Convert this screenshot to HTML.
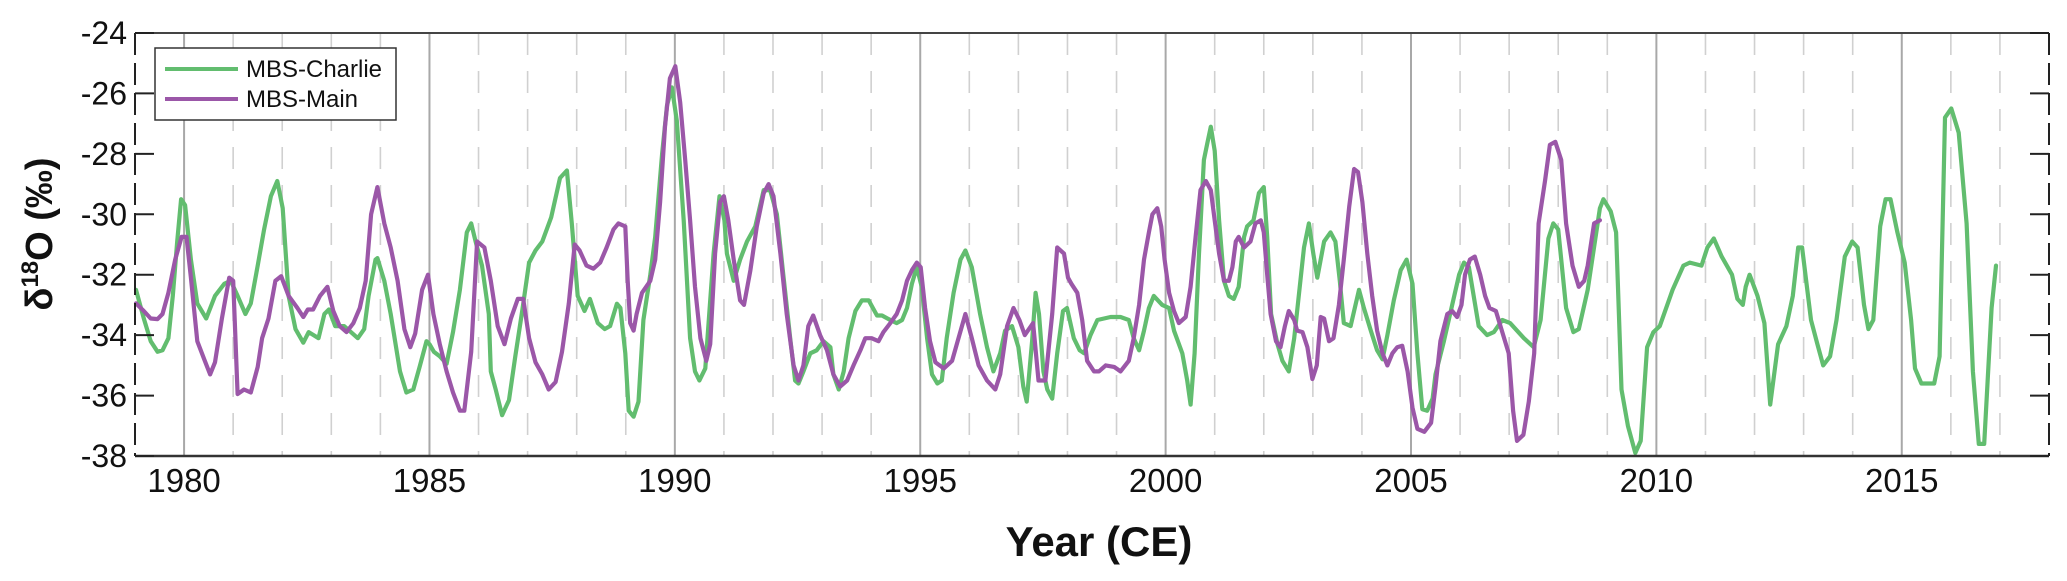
<!DOCTYPE html>
<html><head><meta charset="utf-8"><style>
html,body{margin:0;padding:0;background:#fff;}
svg{display:block;font-family:"Liberation Sans",Arial,sans-serif;}
</style></head><body>
<svg id="chart" width="2067" height="581" viewBox="0 0 2067 581" xmlns="http://www.w3.org/2000/svg">
<g id="grid"></g>
<g id="series"></g>
<g id="axes"></g>
<text transform="translate(52,234) rotate(-90)" text-anchor="middle" font-size="38" font-weight="bold" fill="#111">δ<tspan font-size="24" dy="-14">18</tspan><tspan dy="14">O (‰)</tspan></text>
<text x="1099" y="556" text-anchor="middle" font-size="42" font-weight="bold" fill="#111">Year (CE)</text>
<g>
<rect x="155" y="48" width="241" height="72" fill="#fff" stroke="#333" stroke-width="1.5"/>
<line x1="165" y1="69" x2="238" y2="69" stroke="#62bd6f" stroke-width="4"/>
<text x="246" y="77" font-size="24" fill="#111">MBS-Charlie</text>
<line x1="165" y1="99" x2="238" y2="99" stroke="#9b57a8" stroke-width="4"/>
<text x="246" y="107" font-size="24" fill="#111">MBS-Main</text>
</g>
</svg>
<script>
const charlieYears=[1979.02,1979.18,1979.32,1979.46,1979.56,1979.68,1979.77,1979.86,1979.94,1980.02,1980.14,1980.27,1980.45,1980.63,1980.82,1980.95,1981.09,1981.25,1981.36,1981.5,1981.63,1981.77,1981.9,1982.01,1982.13,1982.27,1982.43,1982.54,1982.74,1982.86,1982.95,1983.08,1983.26,1983.4,1983.54,1983.67,1983.76,1983.9,1983.94,1984.08,1984.21,1984.4,1984.53,1984.67,1984.8,1984.94,1985.0,1985.09,1985.21,1985.35,1985.48,1985.62,1985.76,1985.85,1985.94,1986.07,1986.21,1986.25,1986.35,1986.48,1986.62,1986.75,1986.89,1987.03,1987.16,1987.3,1987.48,1987.66,1987.8,1987.9,1988.02,1988.16,1988.27,1988.43,1988.57,1988.68,1988.82,1988.89,1988.99,1989.06,1989.16,1989.26,1989.36,1989.5,1989.6,1989.74,1989.84,1989.94,1990.04,1990.18,1990.31,1990.41,1990.5,1990.62,1990.79,1990.91,1991.01,1991.06,1991.2,1991.33,1991.47,1991.64,1991.81,1991.94,1992.08,1992.21,1992.35,1992.45,1992.52,1992.62,1992.76,1992.89,1993.03,1993.17,1993.23,1993.34,1993.44,1993.54,1993.68,1993.81,1993.95,1994.12,1994.22,1994.39,1994.52,1994.63,1994.73,1994.83,1994.93,1995.03,1995.14,1995.24,1995.35,1995.44,1995.54,1995.68,1995.82,1995.92,1996.05,1996.22,1996.36,1996.49,1996.63,1996.73,1996.87,1997.0,1997.1,1997.17,1997.28,1997.35,1997.42,1997.51,1997.59,1997.69,1997.79,1997.91,1997.99,1998.13,1998.25,1998.34,1998.47,1998.61,1998.88,1999.08,1999.25,1999.35,1999.46,1999.56,1999.66,1999.76,1999.93,2000.07,2000.17,2000.34,2000.44,2000.51,2000.59,2000.68,2000.78,2000.85,2000.92,2001.0,2001.09,2001.19,2001.29,2001.39,2001.49,2001.6,2001.66,2001.79,2001.9,2002.0,2002.07,2002.15,2002.28,2002.38,2002.51,2002.62,2002.72,2002.82,2002.92,2003.01,2003.09,2003.23,2003.36,2003.46,2003.55,2003.63,2003.77,2003.94,2004.04,2004.18,2004.31,2004.42,2004.52,2004.65,2004.79,2004.91,2005.03,2005.13,2005.23,2005.33,2005.44,2005.5,2005.67,2005.84,2005.98,2006.08,2006.18,2006.38,2006.55,2006.69,2006.86,2007.02,2007.3,2007.5,2007.64,2007.8,2007.9,2008.0,2008.16,2008.31,2008.42,2008.6,2008.85,2008.92,2009.07,2009.18,2009.29,2009.42,2009.57,2009.68,2009.81,2009.94,2010.07,2010.33,2010.55,2010.68,2010.92,2011.04,2011.17,2011.33,2011.54,2011.65,2011.76,2011.82,2011.9,2012.06,2012.2,2012.32,2012.48,2012.65,2012.78,2012.89,2012.97,2013.15,2013.28,2013.4,2013.54,2013.67,2013.84,2013.99,2014.1,2014.23,2014.32,2014.42,2014.56,2014.67,2014.77,2014.91,2015.06,2015.19,2015.27,2015.4,2015.66,2015.77,2015.88,2016.01,2016.16,2016.32,2016.45,2016.57,2016.68,2016.83,2016.92];
const charlieValues=[-32.5,-33.45,-34.2,-34.55,-34.5,-34.1,-32.7,-30.9,-29.5,-29.7,-31.5,-32.95,-33.45,-32.7,-32.3,-32.2,-32.7,-33.3,-32.95,-31.7,-30.5,-29.4,-28.9,-29.8,-32.7,-33.8,-34.25,-33.9,-34.1,-33.3,-33.15,-33.7,-33.7,-33.9,-34.1,-33.8,-32.7,-31.5,-31.45,-32.2,-33.3,-35.2,-35.9,-35.8,-35.05,-34.2,-34.3,-34.55,-34.7,-34.95,-33.9,-32.5,-30.6,-30.3,-30.9,-31.7,-33.3,-35.2,-35.8,-36.65,-36.15,-34.7,-33.2,-31.6,-31.2,-30.9,-30.1,-28.8,-28.55,-30.3,-32.7,-33.2,-32.8,-33.6,-33.8,-33.7,-32.96,-33.1,-34.6,-36.5,-36.7,-36.2,-33.5,-32.0,-30.75,-28.0,-26.4,-25.8,-26.9,-30.2,-34.1,-35.2,-35.5,-35.1,-31.3,-29.4,-30.2,-31.3,-32.2,-31.5,-30.9,-30.4,-29.2,-29.2,-30.0,-32.0,-34.1,-35.5,-35.6,-35.2,-34.6,-34.5,-34.2,-34.4,-35.3,-35.8,-35.2,-34.1,-33.2,-32.85,-32.85,-33.35,-33.35,-33.5,-33.6,-33.5,-33.1,-32.3,-31.75,-32.4,-34.1,-35.3,-35.6,-35.5,-34.1,-32.6,-31.5,-31.2,-31.75,-33.3,-34.4,-35.2,-34.6,-33.85,-33.7,-34.4,-35.7,-36.2,-34.2,-32.6,-33.3,-35.2,-35.8,-36.1,-34.6,-33.2,-33.1,-34.1,-34.5,-34.6,-34.0,-33.5,-33.4,-33.4,-33.5,-34.1,-34.5,-33.85,-33.1,-32.7,-33.0,-33.1,-33.85,-34.6,-35.5,-36.3,-34.6,-31.3,-28.2,-27.65,-27.1,-27.9,-30.2,-32.2,-32.7,-32.8,-32.4,-30.75,-30.4,-30.2,-29.3,-29.1,-30.75,-33.3,-34.3,-34.85,-35.2,-34.1,-32.6,-31.1,-30.3,-31.3,-32.1,-30.9,-30.6,-30.9,-32.2,-33.6,-33.7,-32.5,-33.1,-33.85,-34.5,-34.8,-34.0,-32.85,-31.85,-31.5,-32.3,-34.6,-36.45,-36.5,-36.1,-35.3,-34.2,-33.0,-32.0,-31.6,-31.75,-33.7,-34.0,-33.9,-33.5,-33.6,-34.1,-34.4,-33.5,-30.8,-30.3,-30.5,-33.1,-33.9,-33.8,-32.5,-29.8,-29.5,-29.9,-30.6,-35.8,-37.0,-37.9,-37.5,-34.4,-33.9,-33.7,-32.5,-31.7,-31.6,-31.7,-31.1,-30.8,-31.4,-32.0,-32.8,-33.0,-32.4,-32.0,-32.7,-33.6,-36.3,-34.3,-33.7,-32.7,-31.1,-31.1,-33.5,-34.3,-35.0,-34.7,-33.5,-31.4,-30.9,-31.1,-33.0,-33.8,-33.5,-30.4,-29.5,-29.5,-30.6,-31.6,-33.5,-35.1,-35.6,-35.6,-34.7,-26.8,-26.5,-27.3,-30.3,-35.2,-37.6,-37.6,-33.1,-31.7];
const mainYears=[1979.02,1979.18,1979.32,1979.46,1979.56,1979.68,1979.82,1979.95,1980.05,1980.14,1980.27,1980.41,1980.53,1980.63,1980.77,1980.92,1981.0,1981.09,1981.22,1981.36,1981.5,1981.59,1981.72,1981.86,1981.98,1982.13,1982.31,1982.43,1982.52,1982.63,1982.77,1982.92,1983.04,1983.17,1983.31,1983.45,1983.58,1983.7,1983.81,1983.94,1984.08,1984.21,1984.35,1984.49,1984.61,1984.71,1984.85,1984.97,1985.08,1985.21,1985.35,1985.48,1985.62,1985.71,1985.85,1985.97,1986.12,1986.25,1986.39,1986.53,1986.66,1986.8,1986.91,1987.03,1987.16,1987.3,1987.43,1987.57,1987.7,1987.84,1987.96,1988.06,1988.2,1988.34,1988.48,1988.61,1988.75,1988.85,1988.99,1989.04,1989.09,1989.16,1989.22,1989.33,1989.5,1989.6,1989.7,1989.8,1989.9,1990.01,1990.11,1990.21,1990.31,1990.41,1990.52,1990.64,1990.72,1990.82,1990.92,1991.0,1991.09,1991.2,1991.33,1991.41,1991.54,1991.67,1991.81,1991.91,1992.01,1992.15,1992.28,1992.42,1992.52,1992.62,1992.72,1992.82,1992.96,1993.1,1993.23,1993.37,1993.51,1993.64,1993.78,1993.88,1994.01,1994.15,1994.25,1994.39,1994.52,1994.63,1994.73,1994.83,1994.93,1995.01,1995.1,1995.2,1995.31,1995.48,1995.65,1995.78,1995.92,1996.05,1996.19,1996.36,1996.53,1996.63,1996.77,1996.9,1997.02,1997.13,1997.3,1997.41,1997.55,1997.69,1997.79,1997.93,1998.01,1998.08,1998.2,1998.3,1998.4,1998.54,1998.64,1998.78,1998.95,1999.08,1999.25,1999.35,1999.46,1999.56,1999.66,1999.73,1999.83,1999.91,1999.98,2000.07,2000.17,2000.27,2000.41,2000.51,2000.61,2000.71,2000.82,2000.92,2001.0,2001.09,2001.19,2001.29,2001.36,2001.43,2001.49,2001.6,2001.73,2001.83,2001.94,2002.0,2002.07,2002.14,2002.25,2002.34,2002.43,2002.51,2002.62,2002.68,2002.79,2002.89,2002.99,2003.08,2003.16,2003.23,2003.33,2003.42,2003.53,2003.63,2003.74,2003.84,2003.92,2004.01,2004.11,2004.21,2004.31,2004.42,2004.52,2004.62,2004.72,2004.82,2004.93,2005.03,2005.13,2005.27,2005.41,2005.5,2005.6,2005.74,2005.84,2005.94,2006.03,2006.1,2006.2,2006.3,2006.41,2006.51,2006.6,2006.73,2006.99,2007.08,2007.16,2007.29,2007.4,2007.51,2007.6,2007.73,2007.83,2007.94,2008.06,2008.16,2008.29,2008.42,2008.53,2008.6,2008.73,2008.85,2008.92];
const mainValues=[-32.95,-33.2,-33.45,-33.47,-33.3,-32.6,-31.5,-30.75,-30.75,-32.1,-34.2,-34.8,-35.3,-34.9,-33.45,-32.1,-32.2,-35.95,-35.8,-35.9,-35.05,-34.1,-33.45,-32.2,-32.05,-32.7,-33.1,-33.4,-33.15,-33.15,-32.7,-32.4,-33.2,-33.7,-33.9,-33.6,-33.1,-32.2,-30.0,-29.1,-30.3,-31.1,-32.2,-33.8,-34.4,-33.95,-32.5,-32.0,-33.3,-34.3,-35.2,-35.9,-36.5,-36.5,-34.55,-30.9,-31.1,-32.2,-33.7,-34.3,-33.45,-32.8,-32.8,-34.1,-34.9,-35.3,-35.8,-35.55,-34.55,-32.95,-31.0,-31.2,-31.7,-31.8,-31.6,-31.1,-30.5,-30.3,-30.4,-32.2,-33.6,-33.85,-33.3,-32.6,-32.2,-31.5,-29.6,-27.1,-25.5,-25.1,-26.3,-28.2,-30.2,-32.4,-34.1,-34.85,-34.3,-31.3,-29.6,-29.4,-30.2,-31.5,-32.85,-33.0,-31.85,-30.4,-29.3,-29.0,-29.4,-31.3,-33.3,-35.0,-35.5,-35.0,-33.7,-33.35,-34.0,-34.5,-35.3,-35.7,-35.5,-35.0,-34.5,-34.1,-34.1,-34.2,-33.9,-33.6,-33.3,-32.85,-32.2,-31.85,-31.6,-31.75,-33.1,-34.2,-34.9,-35.1,-34.85,-34.1,-33.3,-34.1,-35.0,-35.5,-35.8,-35.3,-33.7,-33.1,-33.5,-34.0,-33.6,-35.5,-35.5,-33.3,-31.1,-31.3,-32.1,-32.3,-32.6,-33.5,-34.85,-35.2,-35.2,-35.0,-35.05,-35.2,-34.85,-34.1,-33.0,-31.5,-30.6,-30.0,-29.8,-30.4,-31.5,-32.6,-33.2,-33.6,-33.4,-32.4,-30.75,-29.2,-28.9,-29.2,-30.2,-31.3,-32.2,-32.2,-31.75,-30.9,-30.75,-31.1,-30.9,-30.3,-30.2,-30.6,-32.0,-33.3,-34.2,-34.4,-33.7,-33.2,-33.5,-33.85,-33.9,-34.4,-35.45,-35.0,-33.4,-33.45,-34.2,-34.1,-33.0,-31.5,-29.75,-28.5,-28.6,-29.6,-31.3,-32.7,-33.85,-34.6,-35.0,-34.6,-34.4,-34.35,-35.2,-36.4,-37.1,-37.2,-36.9,-35.7,-34.2,-33.3,-33.2,-33.4,-33.0,-32.0,-31.5,-31.4,-32.0,-32.7,-33.1,-33.2,-34.6,-36.5,-37.5,-37.3,-36.2,-34.6,-30.3,-28.9,-27.7,-27.6,-28.2,-30.3,-31.7,-32.4,-32.2,-31.7,-30.3,-30.2];
const yTicks=[-24,-26,-28,-30,-32,-34,-36,-38];
const xTickLabels=[1980,1985,1990,1995,2000,2005,2010,2015];

const NS='http://www.w3.org/2000/svg';
const L=135,R=2049,T=33,B=456,X0=1979,X1=2018,Y0=-38,Y1=-24;
function xs(v){return L+(v-X0)/(X1-X0)*(R-L);}
function ys(v){return B-(v-Y0)/(Y1-Y0)*(B-T);}
function mk(tag,attrs,parent){const e=document.createElementNS(NS,tag);for(const k in attrs)e.setAttribute(k,attrs[k]);parent.appendChild(e);return e;}
const grid=document.getElementById('grid'),axes=document.getElementById('axes'),series=document.getElementById('series');
for(let yr=1980;yr<=2017;yr++){
  const major=yr%5===0;
  const g=mk('line',{x1:xs(yr),x2:xs(yr),y1:T,y2:B,stroke:major?'#a8a8a8':'#d0d0d0','stroke-width':major?2:1.6,'stroke-dasharray':major?'none':'22,16'},grid);
  
  
}
function drawSeries(xsArr,vals,color,name){
  let d='';
  for(let i=0;i<xsArr.length;i++)d+=(i?'L':'M')+xs(xsArr[i]).toFixed(1)+','+ys(vals[i]).toFixed(1);
  const p=mk('path',{d:d,fill:'none',stroke:color,'stroke-width':4.2,'stroke-linejoin':'round','stroke-linecap':'round'},series);
  
  
}
drawSeries(charlieYears,charlieValues,'#62bd6f','series-mbs-charlie');
drawSeries(mainYears,mainValues,'#9b57a8','series-mbs-main');
const ft=mk('line',{x1:L,x2:R,y1:T,y2:T,stroke:'#444','stroke-width':2},axes);


const fb=mk('line',{x1:L,x2:R,y1:B,y2:B,stroke:'#333','stroke-width':2.5},axes);


const fl=mk('line',{x1:L,x2:L,y1:T,y2:B,stroke:'#222','stroke-width':2,'stroke-dasharray':'22,8'},axes);


const fr=mk('line',{x1:R,x2:R,y1:T,y2:B,stroke:'#222','stroke-width':2,'stroke-dasharray':'22,8'},axes);


yTicks.forEach(v=>{
  const y=ys(v);
  const t1=mk('line',{x1:L,x2:L+19,y1:y,y2:y,stroke:'#222','stroke-width':2},axes);
  
  
  const t2=mk('line',{x1:R-19,x2:R,y1:y,y2:y,stroke:'#222','stroke-width':2},axes);
  
  
  const tx=mk('text',{x:127,y:y+11,'text-anchor':'end','font-size':32,fill:'#111'},axes);
  tx.textContent=String(v);
  
  
});
xTickLabels.forEach(v=>{
  const tx=mk('text',{x:xs(v),y:492,'text-anchor':'middle','font-size':33,fill:'#111'},axes);
  tx.textContent=String(v);
  
  
});
</script>
</body></html>
